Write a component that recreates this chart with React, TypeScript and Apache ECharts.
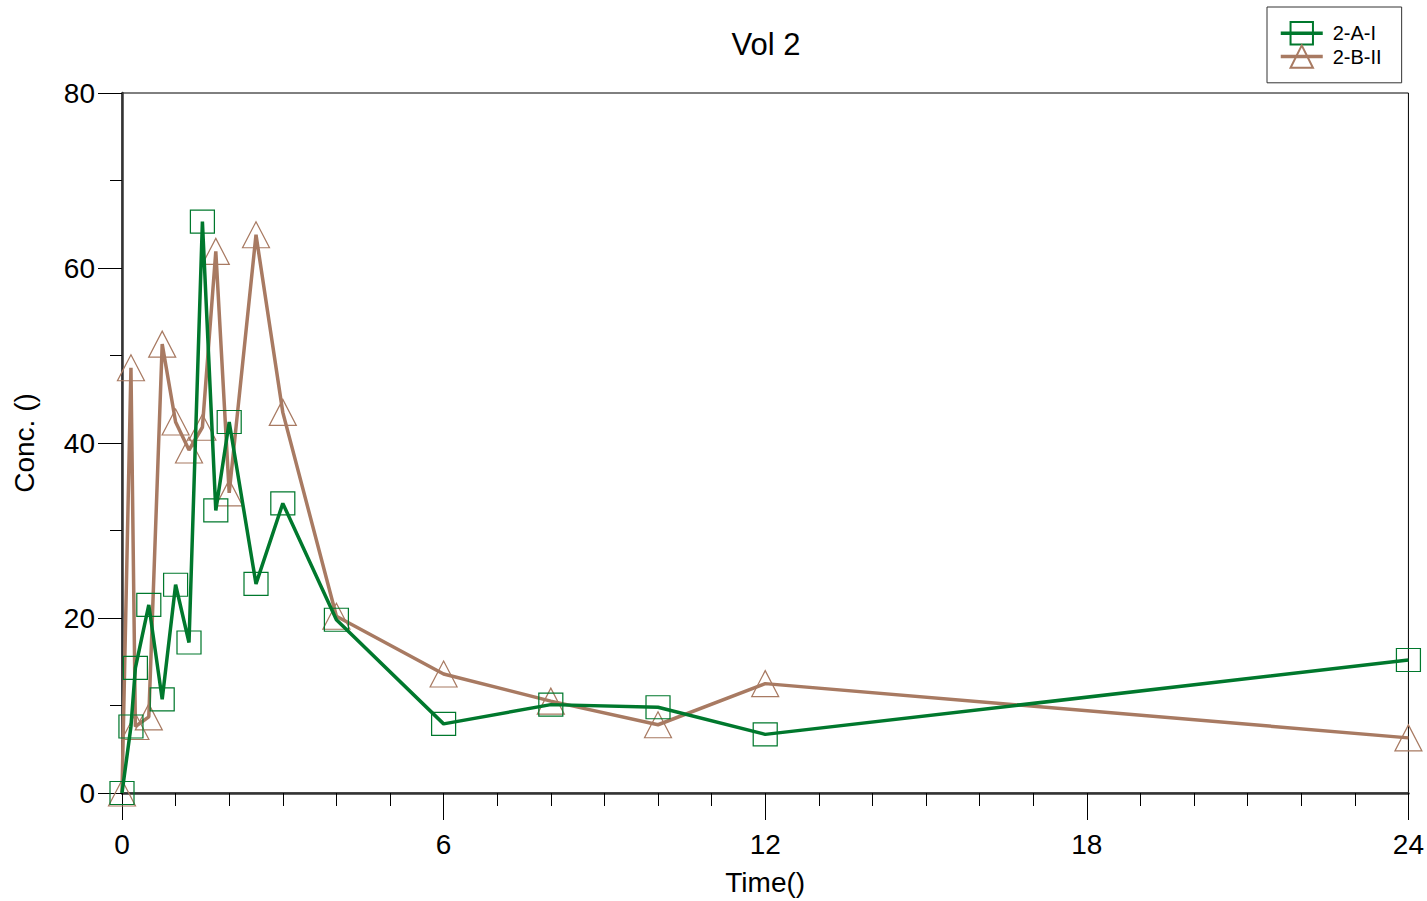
import React, { useEffect, useRef } from "react";
import * as echarts from "echarts";

const times = [0, 0.167, 0.25, 0.5, 0.75, 1, 1.25, 1.5, 1.75, 2, 2.5, 3, 4, 6, 8, 10, 12, 24];
const seriesAName = "2-A-I";
const seriesAValues = [0, 7.6, 14.3, 21.5, 10.7, 23.8, 17.2, 65.3, 32.3, 42.4, 23.9, 33.1, 19.8, 7.9, 10.1, 9.8, 6.7, 15.2];
const seriesBName = "2-B-II";
const seriesBValues = [0, 48.6, 7.6, 8.7, 51.3, 42.4, 39.2, 41.8, 61.9, 34.3, 63.8, 43.5, 20.2, 13.6, 10.5, 7.8, 12.5, 6.3];
const xTicks = { min: 0, max: 24, interval: 6 };
const yTicks = { min: 0, max: 80, interval: 20 };
const chartTitle = "Vol 2";
const xName = "Time()";
const yName = "Conc. ()";

const FONT = '"Liberation Sans", Arial, Helvetica, sans-serif';
const GREEN = "#00782D";
const BROWN = "#A87A62";

export default function App() {
  const ref = useRef<HTMLDivElement>(null);
  useEffect(() => {
    if (!ref.current) return;
    const chart = echarts.init(ref.current, null, { renderer: "svg" });
    const axisCommon = {
      type: "value",
      splitLine: { show: false },
      minorSplitLine: { show: false },
      axisLine: { show: true, onZero: false, lineStyle: { color: "#333", width: 2.5 } },
      nameTextStyle: { fontSize: 28, color: "#000", fontFamily: FONT },
      nameLocation: "middle",
    };
    chart.setOption({
      animation: false,
      backgroundColor: "#fff",
      graphic: [
        {
          type: "text",
          x: 766,
          y: 44,
          style: {
            text: chartTitle,
            fontSize: 31,
            fontFamily: FONT,
            fill: "#000",
            textAlign: "center",
            textVerticalAlign: "middle",
          },
        },
      ],
      legend: {
        left: 1267,
        top: 7,
        orient: "vertical",
        padding: [14, 20, 14, 12],
        itemWidth: 42,
        itemHeight: 28,
        itemGap: -1,
        borderColor: "#333",
        borderWidth: 1,
        lineStyle: { width: 3.5 },
        textStyle: { fontSize: 20, color: "#000", fontFamily: FONT, padding: [0, 0, 0, 5] },
        data: [seriesAName, seriesBName],
      },
      grid: {
        left: 122,
        right: 18,
        top: 93,
        bottom: 108,
        show: true,
        borderColor: "#000",
        borderWidth: 1,
        backgroundColor: "transparent",
      },
      xAxis: {
        ...axisCommon,
        min: xTicks.min,
        max: xTicks.max,
        interval: xTicks.interval,
        name: xName,
        nameGap: 75,
        axisTick: { show: true, length: 27, lineStyle: { color: "#000", width: 1 } },
        minorTick: { show: true, splitNumber: 6, length: 13, lineStyle: { color: "#000", width: 1 } },
        axisLabel: { margin: 37, fontSize: 28, color: "#000", fontFamily: FONT },
      },
      yAxis: {
        ...axisCommon,
        min: yTicks.min,
        max: yTicks.max,
        interval: yTicks.interval,
        name: yName,
        nameGap: 84,
        axisTick: { show: true, length: 24, lineStyle: { color: "#000", width: 1 } },
        minorTick: { show: true, splitNumber: 2, length: 12, lineStyle: { color: "#000", width: 1 } },
        axisLabel: { margin: 27, fontSize: 28, color: "#000", fontFamily: FONT },
      },
      series: [
        {
          name: seriesAName,
          type: "line",
          data: times.map((t, i) => [t, seriesAValues[i]]),
          symbol: "rect",
          symbolSize: [24, 23],
          showAllSymbol: true,
          lineStyle: { color: GREEN, width: 3.5 },
          itemStyle: { color: "rgba(0,0,0,0)", borderColor: GREEN, borderWidth: 1.2 },
          emphasis: { disabled: true },
          z: 3,
        },
        {
          name: seriesBName,
          type: "line",
          data: times.map((t, i) => [t, seriesBValues[i]]),
          symbol: "triangle",
          symbolSize: [27, 26],
          showAllSymbol: true,
          lineStyle: { color: BROWN, width: 3.5 },
          itemStyle: { color: "rgba(0,0,0,0)", borderColor: BROWN, borderWidth: 1.2 },
          emphasis: { disabled: true },
          z: 2,
        },
      ],
    });
    return () => chart.dispose();
  }, []);
  return (
    <div
      ref={ref}
      style={{ position: "absolute", left: 0, top: 0, width: 1427, height: 901, background: "#fff" }}
    />
  );
}
